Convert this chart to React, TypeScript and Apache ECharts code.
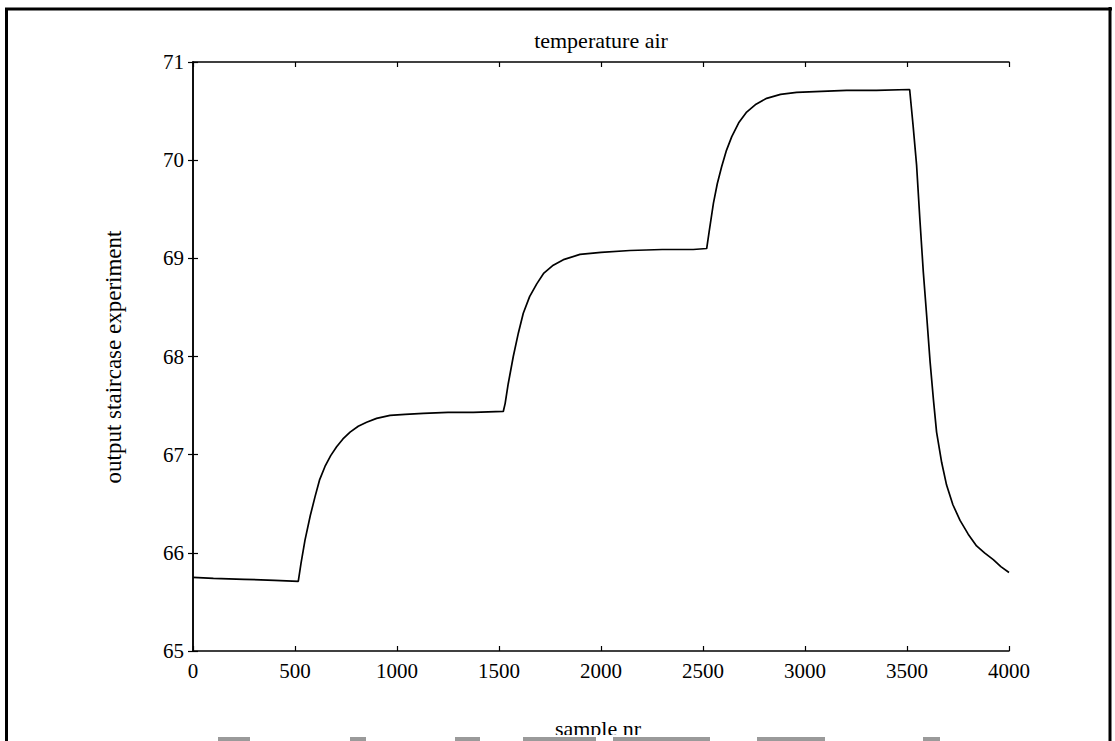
import React, { useEffect, useRef } from "react";
import * as echarts from "echarts";

// Data
const sampleNr = [
  0, 100, 250, 400, 516, 530, 549, 575, 598, 620, 647, 675, 704, 735, 770, 810, 851, 900,
  966, 1040, 1129, 1250, 1374, 1521, 1530, 1545, 1570, 1595, 1619, 1650, 1685, 1720, 1766,
  1820, 1897, 2000, 2142, 2300, 2452, 2518, 2530, 2551, 2570, 2591, 2615, 2641, 2675, 2714,
  2760, 2812, 2880, 2959, 3080, 3204, 3350, 3513, 3530, 3547, 3563, 3580, 3597, 3613, 3630,
  3645, 3670, 3694, 3725, 3760, 3800, 3841, 3880, 3923, 3960, 4000,
];
const temperature = [
  65.75, 65.74, 65.73, 65.72, 65.71, 65.9, 66.13, 66.38, 66.57, 66.74, 66.88, 66.99, 67.08,
  67.16, 67.23, 67.29, 67.33, 67.37, 67.4, 67.41, 67.42, 67.43, 67.43, 67.44, 67.52, 67.72,
  68.0, 68.24, 68.44, 68.61, 68.74, 68.85, 68.93, 68.99, 69.04, 69.06, 69.08, 69.09, 69.09,
  69.1, 69.27, 69.56, 69.76, 69.93, 70.1, 70.24, 70.38, 70.49, 70.57, 70.63, 70.67, 70.69,
  70.7, 70.71, 70.71, 70.72, 70.35, 69.95, 69.4, 68.86, 68.4, 67.95, 67.55, 67.23, 66.92,
  66.69, 66.49, 66.33, 66.19, 66.07, 66.0, 65.93, 65.86, 65.8,
];
const xMin = 0;
const xMax = 4000;
const xStep = 500;
const yMin = 65;
const yMax = 71;
const yStep = 1;
const titleText = "temperature air";
const xName = "sample nr";
const yName = "output staircase experiment";

const FONT = "Liberation Serif";

export default function App() {
  const ref = useRef<HTMLDivElement>(null);
  useEffect(() => {
    document.body.style.margin = "0";
    if (!ref.current) return;
    const chart = echarts.init(ref.current, undefined, { renderer: "svg" });
    const axisLine = { show: true, lineStyle: { color: "#000", width: 1.5 } };
    const tick = { show: true, inside: true, length: 5, lineStyle: { color: "#000", width: 1.2 } };
    const label = { color: "#000", fontFamily: FONT, fontSize: 21, formatter: (v: number) => String(v) };
    const data = sampleNr.map((x, i) => [x, temperature[i]]);
    const grayBars = [
      [218, 250], [350, 366], [455, 480], [523, 596], [613, 710], [757, 825], [923, 940],
    ];
    chart.setOption({
      animation: false,
      backgroundColor: "#fff",
      grid: { left: 193, right: 106, top: 62, bottom: 90, containLabel: false },
      xAxis: [
        {
          type: "value", position: "bottom", min: xMin, max: xMax, interval: xStep,
          axisLine, axisTick: tick, splitLine: { show: false },
          axisLabel: { ...label, margin: 9 },
        },
        {
          type: "value", position: "top", min: xMin, max: xMax, interval: xStep,
          axisLine, axisTick: tick, splitLine: { show: false }, axisLabel: { show: false },
        },
      ],
      yAxis: [
        {
          type: "value", position: "left", min: yMin, max: yMax, interval: yStep,
          axisLine, axisTick: tick, splitLine: { show: false },
          axisLabel: { ...label, margin: 9 },
        },
        {
          type: "value", position: "right", min: yMin, max: yMax, interval: yStep,
          axisLine, axisTick: tick, splitLine: { show: false }, axisLabel: { show: false },
        },
      ],
      series: [
        {
          type: "line",
          data,
          showSymbol: false,
          smooth: false,
          lineStyle: { color: "#000", width: 1.7 },
        },
      ],
      graphic: [
        {
          type: "text", x: 601, y: 40,
          style: { text: titleText, fontFamily: FONT, fontSize: 22, fill: "#000", textAlign: "center", textVerticalAlign: "middle" },
        },
        {
          type: "text", x: 113, y: 357, rotation: Math.PI / 2,
          style: { text: yName, fontFamily: FONT, fontSize: 23, fill: "#000", textAlign: "center", textVerticalAlign: "middle" },
        },
        {
          type: "text", x: 598, y: 728,
          style: { text: xName, fontFamily: FONT, fontSize: 22, fill: "#000", textAlign: "center", textVerticalAlign: "middle" },
        },
        { type: "rect", shape: { x: 9, y: 735, width: 1099, height: 6 }, style: { fill: "#fff" } },
        ...grayBars.map(([a, b]) => ({
          type: "rect", shape: { x: a, y: 737, width: b - a, height: 4 }, style: { fill: "#9a9a9a" },
        })),
        { type: "line", shape: { x1: 6.5, y1: 8, x2: 6.5, y2: 741 }, style: { stroke: "#000", lineWidth: 3 } },
        { type: "line", shape: { x1: 5, y1: 9, x2: 1112, y2: 9 }, style: { stroke: "#000", lineWidth: 3 } },
        { type: "line", shape: { x1: 1110, y1: 7, x2: 1110, y2: 741 }, style: { stroke: "#000", lineWidth: 3 } },
      ],
    });
    return () => chart.dispose();
  }, []);
  return <div ref={ref} style={{ width: 1115, height: 741 }} />;
}
